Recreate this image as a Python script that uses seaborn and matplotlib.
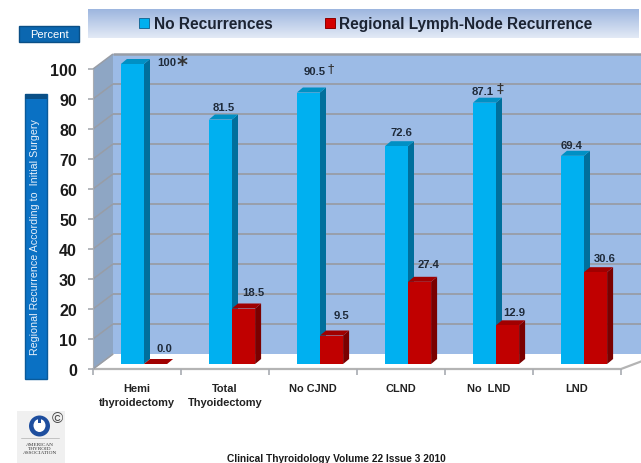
import numpy as np
import pandas as pd
import matplotlib
matplotlib.use("Agg")
import matplotlib.pyplot as plt
import seaborn as sns
from matplotlib.colors import to_hex, to_rgb
from matplotlib.patches import Polygon, Rectangle, Circle, Ellipse
from matplotlib.transforms import ScaledTranslation, IdentityTransform

categories = ["Hemi\nthyroidectomy", "Total\nThyoidectomy", "No CJND", "CLND", "No  LND", "LND"]
no_recurrence = [100, 81.5, 90.5, 72.6, 87.1, 69.4]
lymph_node = [0.0, 18.5, 9.5, 27.4, 12.9, 30.6]
no_labels = ["100", "81.5", "90.5", "72.6", "87.1", "69.4"]
ln_labels = ["0.0", "18.5", "9.5", "27.4", "12.9", "30.6"]
series_names = ["No Recurrences", "Regional Lymph-Node Recurrence"]
y_ticks = list(range(0, 101, 10))
marks = {0: "*", 2: "†", 4: "‡"}

W, H = 641, 464
DPI = 100
FONT = "Liberation Sans"

sns.set_theme(style="white")
plt.rcParams["font.family"] = [FONT, "DejaVu Sans"]

fig = plt.figure(figsize=(W / DPI, H / DPI), dpi=DPI, facecolor="white")
px = fig.add_axes([0, 0, 1, 1], zorder=0)
px.axis("off")

L, R, Y0, Y100 = 93, 621, 370, 70
ax = fig.add_axes([L / W, 1 - Y0 / H, (R - L) / W, (Y0 - Y100) / H], zorder=2)
ax.patch.set_alpha(0)

df = pd.DataFrame({
    "cat": categories * 2,
    "val": no_recurrence + lymph_node,
    "series": [series_names[0]] * 6 + [series_names[1]] * 6,
})
BLUE, RED = "#00b0f0", "#c00000"
sns.barplot(data=df, x="cat", y="val", hue="series", palette=[BLUE, RED], width=0.525,
            gap=0, saturation=1, legend=False, ax=ax, linewidth=0, zorder=4)
ax.set_xlim(-0.5, 5.5)
ax.set_ylim(0, 100)
ax.set_xlabel("")
ax.set_ylabel("")


def px_off(dx, dy):
    """Shift by dx px right and dy px up."""
    return ScaledTranslation(dx / DPI, dy / DPI, fig.dpi_scale_trans)


DX, DY = 20, -15


def P(x, v, d=0):
    return (x + DX * d, Y0 + (Y100 - Y0) * v / 100 + DY * d)


px.add_patch(Polygon([P(L, 0, 1), P(W + 2, 0, 1), P(W + 2, 100, 1), P(L, 100, 1)], fc="#9cbbe6", ec="none"))
px.add_patch(Polygon([P(L, 0), P(L, 0, 1), P(L, 100, 1), P(L, 100)], fc="#8ea6c4", ec="none"))
GRID = "#989da6"
for v in y_ticks:
    px.plot(*zip(P(L, v), P(L, v, 1)), color=GRID, lw=1.1, solid_capstyle="butt")
    if v:
        px.plot(*zip(P(L, v, 1), P(W + 2, v, 1)), color=GRID, lw=1.3 if v < 100 else 1.8, solid_capstyle="butt")
px.plot(*zip(P(L, 0), P(L, 100)), color="#a8acb2", lw=0.8)
px.add_patch(Polygon([P(L, 0), P(L, 0, 1), P(W + 2, 0, 1), P(W + 2, -1), P(R, 0)], fc="white", ec="none", zorder=1.5))
px.plot(*zip(P(L, 0), P(L, 0, 1)), color="#b0b0b0", lw=1, zorder=1.6)
px.plot(*zip(P(L, 0), P(R, 0), P(R + 20, 0, 1)), color="#b4b4b4", lw=1.6, zorder=1.6)

# depth of each bar, derived from the bars seaborn drew
SX, SY = 7, 5
ddx, ddy = 6, 5
SIDE = {BLUE: "#006f9c", RED: "#7a0000"}
TOP = {BLUE: "#0090c4", RED: "#a00000"}
ident = IdentityTransform()
for k, cont in enumerate(ax.containers):
    for rect in cont:
        col = to_hex(rect.get_facecolor())
        x0, w, h = rect.get_x(), rect.get_width(), rect.get_height()
        base = ax.transData + px_off(SX, SY)
        rear_t = ax.transData + px_off(SX + ddx, SY + ddy)
        rect.set_transform(base)
        rect.set_clip_on(False)
        rect.set_zorder(5 + 2 * k + 1)
        front = base.transform([(x0, h), (x0 + w, h), (x0 + w, 0)])
        rear = rear_t.transform([(x0, h), (x0 + w, h), (x0 + w, 0)])
        zo = 5 + 2 * k
        ax.add_patch(Polygon([front[2], front[1], rear[1], rear[2]], fc=SIDE[col], ec="none",
                             transform=ident, zorder=zo, clip_on=False))
        ax.add_patch(Polygon([front[0], front[1], rear[1], rear[0]], fc=TOP[col], ec="none",
                             transform=ident, zorder=zo, clip_on=False))

for s in ax.spines.values():
    s.set_visible(False)
ax.set_yticks(y_ticks)
ax.set_yticklabels([str(v) for v in y_ticks], fontsize=11.5, fontweight="bold", color="#1a1a1a")
ax.tick_params(axis="y", length=3.6, width=1.2, color="#a8acb2", pad=8, left=True)
ax.set_xticks(np.arange(0, 7) - 0.5, minor=True)
ax.tick_params(axis="x", which="minor", length=4, width=1.2, color="#a8acb2", bottom=True, direction="out")
ax.set_xticks(range(6))
ax.tick_params(axis="x", which="major", length=0, pad=10)
ax.set_xticklabels(categories, fontsize=7.9, fontweight="bold", color="#222222", linespacing=1.55)

PT = 72 / DPI
blue_off = {0: (41.2, 7), 1: (10.2, 17.8), 2: (13.5, 26.5), 3: (12.2, 19.2), 4: (5.5, 16.7), 5: (6.2, 16)}
mark_off = {0: (56.5, 4), 2: (29.5, 29.5), 4: (22.5, 19.7)}
mark_size = {0: 15, 2: 9, 4: 10}
red_off = {0: (15.5, 21), 1: (16.5, 21.5), 2: (16.5, 25.5), 3: (16.5, 22.8), 4: (13.5, 18.3), 5: (16.5, 19.2)}
for i in range(6):
    dx, dy = blue_off[i]
    ax.annotate(no_labels[i], (i - 0.131, no_recurrence[i]), xytext=(dx * PT, dy * PT),
                textcoords="offset points", ha="center", va="center", fontsize=8.1,
                fontweight="bold", color="#1e2a3a", annotation_clip=False, zorder=12)
    if i in marks:
        mx, my = mark_off[i]
        ax.annotate(marks[i], (i - 0.131, no_recurrence[i]), xytext=(mx * PT, my * PT),
                    textcoords="offset points", ha="center", va="center", fontsize=mark_size[i],
                    fontweight="bold" if i == 0 else "normal",
                    color="#333333", family="DejaVu Sans", annotation_clip=False, zorder=12)
    dx, dy = red_off[i]
    ax.annotate(ln_labels[i], (i + 0.131, lymph_node[i]), xytext=(dx * PT, dy * PT),
                textcoords="offset points", ha="center", va="center", fontsize=8.1,
                fontweight="bold", color="#1e2a3a", annotation_clip=False, zorder=12)

# header band
grad = np.linspace(0, 1, 64)[:, None, None]
c1, c2 = np.array(to_rgb("#9db6df")), np.array(to_rgb("#e3eaf6"))
band = c1[None, None, :] * (1 - grad) + c2[None, None, :] * grad
px.imshow(band, extent=(88, 639, 39, 10), aspect="auto", zorder=1)
px.set_xlim(0, W)
px.set_ylim(H, 0)
for x, col, tx, name in [(139, BLUE, 154, series_names[0]), (324.5, "#d40000", 339, series_names[1])]:
    px.add_patch(Rectangle((x, 19), 10, 10, fc=col, ec="#1a6c9a" if col == BLUE else "#8a0000", lw=0.7, zorder=2))
    px.text(tx, 24.5, name, fontsize=11.2, fontweight="bold", color="#1c2433", va="center", ha="left", zorder=3)

px.add_patch(Rectangle((19, 27), 60, 16, fc="#0b67b0", ec="#0a4f86", lw=1, zorder=2))
px.text(49, 35.5, "Percent", fontsize=8, color="white", ha="center", va="center", zorder=3)

px.add_patch(Rectangle((25, 95), 22, 285, fc="#0a71c4", ec="#0a5a9a", lw=1, zorder=2))
px.add_patch(Rectangle((25, 95), 22, 5, fc="#0a4f86", ec="none", zorder=2))
px.text(35, 237, "Regional Recurrence According to  Initial Surgery", fontsize=7.7, color="#e8f0fa",
        rotation=90, ha="center", va="center", zorder=3)

# logo
px.add_patch(Rectangle((17, 412), 48, 52, fc="#f0f0f0", ec="none", zorder=1))
px.add_patch(Circle((39.5, 427), 10.5, fc="#1e4e9e", ec="none", zorder=2))
px.add_patch(Ellipse((39.5, 426.5), 12, 13, fc="white", ec="none", zorder=3))
px.add_patch(Rectangle((38, 419), 3, 5, fc="#1e4e9e", ec="none", zorder=4))
px.text(57, 419.5, "©", fontsize=11, ha="center", va="center", color="#444444", zorder=3)
px.plot([21, 59], [439, 439], color="#bbbbbb", lw=0.6, zorder=2)
px.text(40, 449, "AMERICAN\nTHYROID\nASSOCIATION", fontsize=3.8, ha="center", va="center",
        family="Liberation Serif", color="#333333", zorder=3, linespacing=1.1)

px.text(336, 459, "Clinical Thyroidology Volume 22 Issue 3 2010", fontsize=7.3, fontweight="bold",
        color="#1a1a1a", ha="center", va="center")

fig.savefig("out.png", dpi=DPI)
